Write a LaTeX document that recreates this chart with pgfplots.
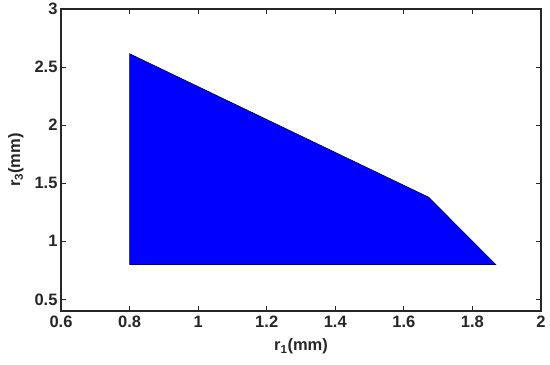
\documentclass[border=0pt]{standalone}
\usepackage{fontspec}
\setmainfont{Liberation Sans}
\usepackage{pgfplots}
\pgfplotsset{compat=1.18}
\begin{document}
\begin{tikzpicture}[font=\fontsize{16.5}{19}\selectfont\bfseries]
\begin{axis}[
  scale only axis,
  width=480pt, height=302pt,
  xmin=0.6, xmax=2, ymin=0.4, ymax=3,
  xtick={0.6,0.8,1,1.2,1.4,1.6,1.8,2},
  ytick={0.5,1,1.5,2,2.5,3},
  xticklabels={0.6,0.8,1,1.2,1.4,1.6,1.8,2},
  yticklabels={0.5,1,1.5,2,2.5,3},
  tick align=inside,
  major tick length=5pt,
  axis line style={line width=1.3pt, black!85},
  tick style={line width=1pt, black!85},
  tick label style={font=\fontsize{16.5}{19}\selectfont\bfseries, text=black!85},
  every axis label/.append style={font=\fontsize{16.5}{19}\selectfont\bfseries, text=black!85},
  xticklabel style={yshift=-1.5pt},
  xlabel={r$_{\mathbf{1}}$(mm)},
  ylabel={r$_{\mathbf{3}}$(mm)},
  xlabel style={yshift=-4pt},
  ylabel style={yshift=4pt},
]
\addplot[fill=blue, draw=black!70!blue, line width=0.6pt] coordinates {
 (0.8,0.8) (0.8,2.615) (1.672,1.38) (1.868,0.8) (0.8,0.8)
} -- cycle;
\end{axis}
\pgfresetboundingbox
\path ([shift={(-61pt,-53pt)}]current axis.south west) rectangle ([shift={(9pt,9pt)}]current axis.north east);
\end{tikzpicture}
\end{document}
